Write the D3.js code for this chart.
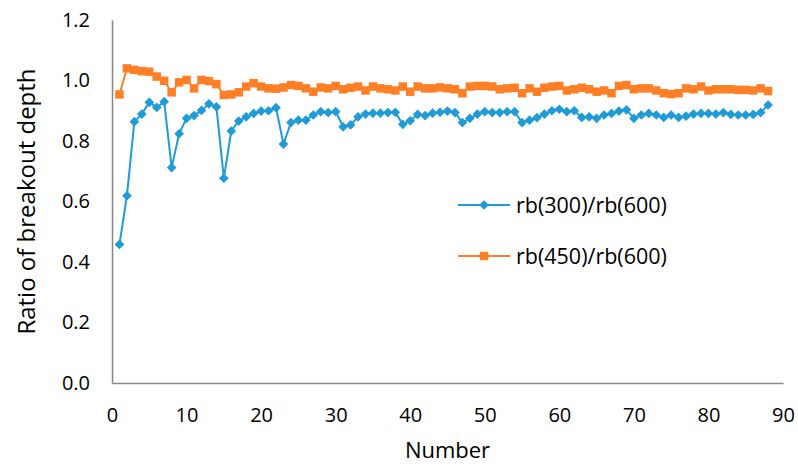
<!DOCTYPE html>
<html>
<head>
<meta charset="utf-8">
<script src="https://cdn.jsdelivr.net/npm/d3@7/dist/d3.min.js"></script>
<style>
  body { margin: 0; background: #fff; }
  text { font-family: "Open Sans", sans-serif; fill: #000; }
</style>
</head>
<body>
<svg id="chart" width="798" height="466"></svg>
<script>
// Data
var numbers = d3.range(1, 89);

var rb300 = [
  0.458, 0.619, 0.864, 0.889, 0.928, 0.911, 0.930, 0.712, 0.824, 0.875,
  0.884, 0.901, 0.923, 0.913, 0.677, 0.833, 0.866, 0.880, 0.891, 0.899,
  0.900, 0.910, 0.790, 0.861, 0.869, 0.869, 0.886, 0.897, 0.894, 0.897,
  0.847, 0.853, 0.880, 0.889, 0.892, 0.892, 0.894, 0.895, 0.855, 0.867,
  0.888, 0.884, 0.892, 0.895, 0.899, 0.894, 0.861, 0.875, 0.889, 0.897,
  0.894, 0.894, 0.897, 0.897, 0.861, 0.869, 0.877, 0.889, 0.900, 0.905,
  0.897, 0.900, 0.878, 0.880, 0.875, 0.886, 0.891, 0.899, 0.903, 0.875,
  0.886, 0.891, 0.886, 0.878, 0.886, 0.878, 0.882, 0.889, 0.891, 0.891,
  0.889, 0.894, 0.888, 0.886, 0.886, 0.888, 0.894, 0.919
];

var rb450 = [
  0.954, 1.040, 1.035, 1.031, 1.029, 1.013, 0.999, 0.961, 0.994, 1.002,
  0.974, 1.002, 0.998, 0.988, 0.952, 0.954, 0.961, 0.980, 0.991, 0.980,
  0.974, 0.973, 0.977, 0.985, 0.982, 0.974, 0.963, 0.977, 0.974, 0.982,
  0.971, 0.976, 0.980, 0.967, 0.980, 0.974, 0.971, 0.967, 0.980, 0.963,
  0.980, 0.974, 0.974, 0.977, 0.974, 0.971, 0.958, 0.980, 0.982, 0.982,
  0.980, 0.971, 0.974, 0.976, 0.958, 0.974, 0.963, 0.976, 0.980, 0.982,
  0.967, 0.971, 0.976, 0.971, 0.963, 0.967, 0.958, 0.982, 0.985, 0.971,
  0.974, 0.974, 0.967, 0.958, 0.955, 0.958, 0.974, 0.971, 0.980, 0.967,
  0.971, 0.971, 0.971, 0.969, 0.969, 0.967, 0.974, 0.965
];

var seriesNames = ["rb(300)/rb(600)", "rb(450)/rb(600)"];
var xTicks = [0, 10, 20, 30, 40, 50, 60, 70, 80, 90];
var yTicks = [0, 0.2, 0.4, 0.6, 0.8, 1.0, 1.2];

var blue = "#1f9bd7", orange = "#ff7f27", axisGray = "#868686";

var margin = {top: 20, right: 15, bottom: 83, left: 112},
  width = 798 - margin.left - margin.right,
  height = 466 - margin.top - margin.bottom;

var svg = d3.select("#chart")
  .append("g")
  .attr("transform", "translate(" + margin.left + "," + margin.top + ")");

var x = d3.scaleLinear().domain([0, 90]).range([0, width]);
var y = d3.scaleLinear().domain([0, 1.2]).range([height, 0]);

// Axes
var xAxis = svg.append("g")
  .attr("transform", "translate(0," + height + ")")
  .call(d3.axisBottom(x).tickValues(xTicks).tickSize(0).tickPadding(25).tickFormat(d3.format("d")));

var yAxis = svg.append("g")
  .call(d3.axisLeft(y).tickValues(yTicks).tickSize(0).tickPadding(22).tickFormat(d3.format(".1f")));

[xAxis, yAxis].forEach(function (a) {
  a.select(".domain").attr("stroke", axisGray).attr("stroke-width", 1.5);
  a.selectAll("text").style("font-size", "20px").style("font-family", "'Open Sans', sans-serif");
});

svg.append("text")
  .attr("x", width / 2)
  .attr("y", height + 75)
  .style("text-anchor", "middle")
  .style("font-size", "22px")
  .text("Number");

svg.append("text")
  .attr("transform", "rotate(-90)")
  .attr("x", -height / 2)
  .attr("y", -77)
  .style("text-anchor", "middle")
  .style("font-size", "24px")
  .text("Ratio of breakout depth");

// Series
var line = d3.line()
  .x(function (d) { return x(d[0]); })
  .y(function (d) { return y(d[1]); });

var blueData = numbers.map(function (n, i) { return [n, rb300[i]]; });
var orangeData = numbers.map(function (n, i) { return [n, rb450[i]]; });

var diamond = d3.symbol().type(d3.symbolDiamond2).size(60);
var square = d3.symbol().type(d3.symbolSquare).size(72);

function drawSeries(data, color, sym) {
  svg.append("path")
    .datum(data)
    .attr("fill", "none")
    .attr("stroke", color)
    .attr("stroke-width", 2)
    .attr("d", line);

  svg.selectAll(null)
    .data(data)
    .enter().append("path")
    .attr("transform", function (d) { return "translate(" + x(d[0]) + "," + y(d[1]) + ")"; })
    .attr("d", sym)
    .attr("fill", color);
}

drawSeries(orangeData, orange, square);
drawSeries(blueData, blue, diamond);

// Legend
var legend = d3.select("#chart").append("g");
var legendItems = [
  {name: seriesNames[0], color: blue, sym: diamond, y: 205},
  {name: seriesNames[1], color: orange, sym: square, y: 256}
];
legendItems.forEach(function (it) {
  legend.append("line")
    .attr("x1", 458).attr("x2", 510)
    .attr("y1", it.y).attr("y2", it.y)
    .attr("stroke", it.color).attr("stroke-width", 2);
  legend.append("path")
    .attr("transform", "translate(484," + it.y + ")")
    .attr("d", it.sym)
    .attr("fill", it.color);
  legend.append("text")
    .attr("x", 516)
    .attr("y", it.y)
    .attr("dy", "0.35em")
    .style("font-size", "21.5px")
    .text(it.name);
});
</script>
</body>
</html>
